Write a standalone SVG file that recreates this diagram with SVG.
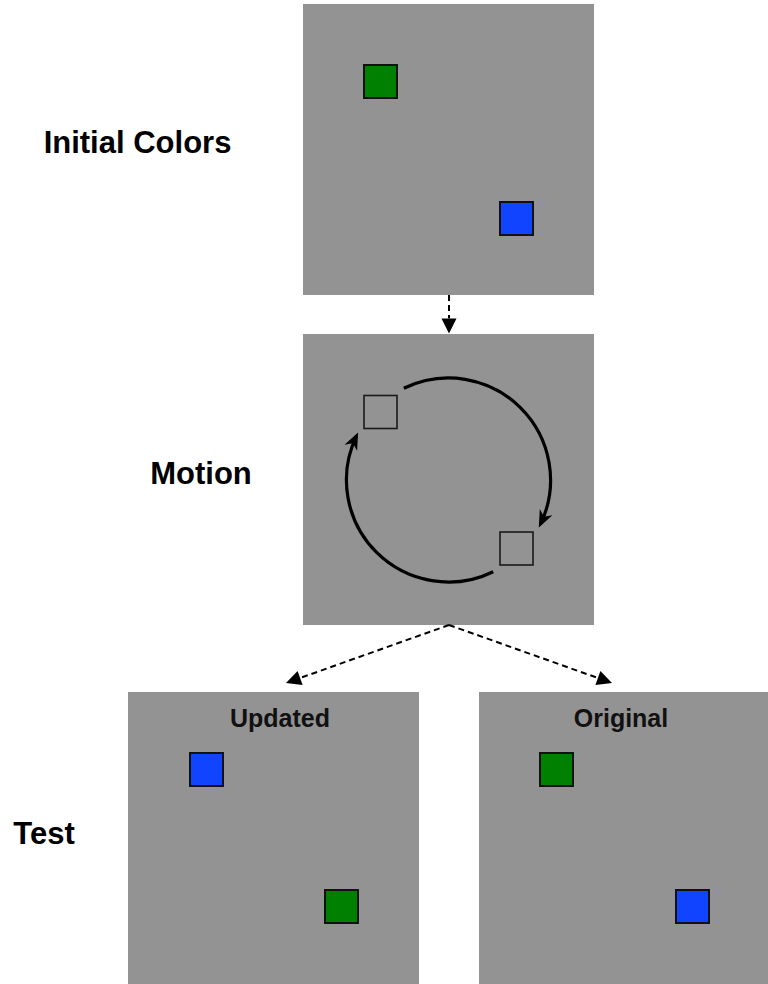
<svg xmlns="http://www.w3.org/2000/svg" width="768" height="984" viewBox="0 0 768 984">
  <style>
    .panel { fill: #939393; }
    .green { fill: #008000; stroke: #111; stroke-width: 2; }
    .blue { fill: #1044ff; stroke: #111; stroke-width: 2; }
    .outline { fill: none; stroke: #1a1a1a; stroke-width: 1.6; }
    .label { font-family: "Liberation Sans", Arial, sans-serif; font-weight: bold; font-size: 31px; fill: #000; text-anchor: middle; }
    .inner { font-family: "Liberation Sans", Arial, sans-serif; font-weight: bold; font-size: 25px; fill: #111; text-anchor: middle; }
    .dash { fill: none; stroke: #000; stroke-width: 2; stroke-dasharray: 6 4; }
    .arc { fill: none; stroke: #000; stroke-width: 3.2; }
    .head { fill: #000; }
  </style>
  <defs>
    <marker id="tri" markerUnits="userSpaceOnUse" markerWidth="20" markerHeight="20" refX="0" refY="0" orient="auto" overflow="visible">
      <path d="M0,-7.5 L15,0 L0,7.5 Z" fill="#000"/>
    </marker>
  </defs>

  <g id="label-initial"><text class="label" x="137.5" y="152.5">Initial Colors</text></g>
  <g id="label-motion"><text class="label" x="201" y="484.3">Motion</text></g>
  <g id="label-test"><text class="label" x="44" y="844.3">Test</text></g>

  <g id="panel-initial">
    <rect class="panel" x="303" y="4" width="291" height="291"/>
    <rect class="green" x="364" y="65" width="33" height="33"/>
    <rect class="blue" x="500" y="202" width="33" height="33"/>
  </g>

  <g id="panel-motion">
    <rect class="panel" x="303" y="334" width="291" height="291"/>
    <rect class="outline" x="364" y="395.5" width="33" height="33"/>
    <rect class="outline" x="500" y="532" width="33" height="33"/>
    <path class="arc" d="M403.8,388.3 A102,102 0 0 1 540.6,523.9"/>
    <path class="head" d="M538.8,527.5 L552.4,515.2 L544.0,516.7 L539.8,509.1 Z"/>
    <path class="arc" d="M493.2,571.7 A102,102 0 0 1 356.4,436.1"/>
    <path class="head" d="M358.1,432.5 L344.5,444.8 L352.9,443.3 L357.1,450.8 Z"/>
  </g>

  <g id="panel-updated">
    <rect class="panel" x="128" y="692" width="291" height="292"/>
    <text class="inner" x="280" y="727.3">Updated</text>
    <rect class="blue" x="190" y="753" width="33" height="33"/>
    <rect class="green" x="325" y="890" width="33" height="33"/>
  </g>

  <g id="panel-original">
    <rect class="panel" x="479" y="692" width="291" height="292"/>
    <text class="inner" x="621" y="727.3">Original</text>
    <rect class="green" x="540" y="753" width="33" height="33"/>
    <rect class="blue" x="676" y="890" width="33" height="33"/>
  </g>

  <g id="connectors">
    <line class="dash" x1="449" y1="295" x2="449" y2="318.5" marker-end="url(#tri)"/>
    <line class="dash" x1="449" y1="625" x2="300.1" y2="678" marker-end="url(#tri)"/>
    <line class="dash" x1="449" y1="625" x2="597.9" y2="678" marker-end="url(#tri)"/>
  </g>
</svg>
